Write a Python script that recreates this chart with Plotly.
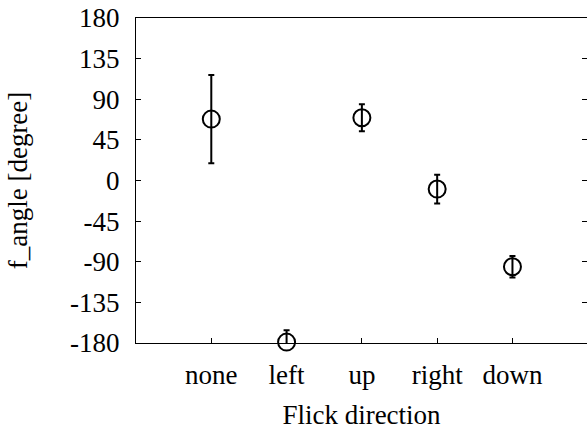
import plotly.graph_objects as go
import numpy as np

categories = ["none", "left", "up", "right", "down"]
x_pos = [1, 2, 3, 4, 5]
mean_angle = [68, -179, 69.5, -9.5, -95.5]
err_angle = [49, 13, 15, 16, 12]
y_ticks = [-180, -135, -90, -45, 0, 45, 90, 135, 180]

FONT = "Times New Roman, Liberation Serif, Tinos, Times, serif"
FS = 27

fig = go.Figure()
# error bars (clipped to the plot area)
fig.add_trace(go.Scatter(
    x=x_pos, y=mean_angle, mode="markers",
    marker=dict(size=1, opacity=0),
    error_y=dict(type="data", array=err_angle, visible=True,
                 color="black", thickness=2, width=3),
    cliponaxis=True, showlegend=False, hoverinfo="skip"))
# markers (not clipped)
fig.add_trace(go.Scatter(
    x=x_pos, y=mean_angle, mode="markers",
    marker=dict(symbol="circle-open", size=17, color="black",
                line=dict(width=2, color="black")),
    cliponaxis=False, showlegend=False))
# dummy trace for right-side ticks
fig.add_trace(go.Scatter(x=[None], y=[None], yaxis="y2",
                         showlegend=False, hoverinfo="skip"))

fig.update_layout(
    width=587, height=430,
    margin=dict(l=136, r=0, t=18, b=87),
    paper_bgcolor="white", plot_bgcolor="white",
    font=dict(family=FONT, size=FS, color="black"),
    xaxis=dict(range=[0, 5.99], tickvals=x_pos, ticktext=categories,
               ticks="inside", ticklen=5, tickwidth=1, tickcolor="black",
               showline=True, linecolor="black", linewidth=1, mirror=True,
               showgrid=False, zeroline=False,
               ticklabelstandoff=8,
               title=dict(text="Flick direction", standoff=18,
                          font=dict(family=FONT, size=FS))),
    yaxis=dict(range=[-180, 180], tickvals=y_ticks,
               ticktext=[str(v) for v in y_ticks],
               ticks="inside", ticklen=5, tickwidth=1, tickcolor="black",
               showline=True, linecolor="black", linewidth=1, mirror=False,
               showgrid=False, zeroline=False,
               ticklabelstandoff=10,
               title=dict(text="f_angle [degree]", standoff=34,
                          font=dict(family=FONT, size=FS))),
    yaxis2=dict(range=[-180, 180], tickvals=y_ticks, overlaying="y",
                side="right", anchor="x", showticklabels=False,
                ticks="inside", ticklen=5, tickwidth=1, tickcolor="black",
                showline=False, showgrid=False, zeroline=False),
)

fig.write_html("out.html")
